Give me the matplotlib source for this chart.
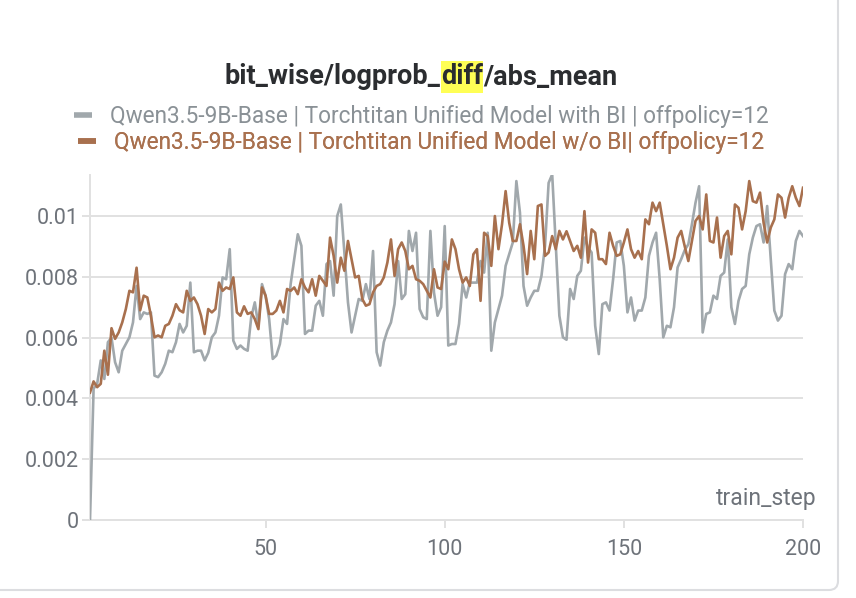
import matplotlib
matplotlib.use("Agg")
import matplotlib.pyplot as plt
import numpy as np
from matplotlib.lines import Line2D
from matplotlib.patches import FancyBboxPatch, Rectangle
from matplotlib.transforms import IdentityTransform

plt.rcParams["font.family"] = ["Roboto", "DejaVu Sans"]

TITLE_PARTS = ["bit_wise/logprob_", "diff", "/abs_mean"]
LABEL_WITH_BI = "Qwen3.5-9B-Base | Torchtitan Unified Model with BI | offpolicy=12"
LABEL_WO_BI = "Qwen3.5-9B-Base | Torchtitan Unified Model w/o BI| offpolicy=12"
X_LABEL = "train_step"

y_ticks = [0, 0.002, 0.004, 0.006, 0.008, 0.01]
y_tick_labels = ["0", "0.002", "0.004", "0.006", "0.008", "0.01"]
x_ticks = [50, 100, 150, 200]

steps = np.arange(1, 201)

# values in units of 1e-3
with_bi = [
    0.0, 4.32, 4.48, 5.25, 4.64, 5.85, 6.0, 5.19, 4.86, 5.57,
    5.79, 6.01, 6.5, 7.7, 6.61, 6.83, 6.78, 6.83, 4.75, 4.7,
    4.86, 5.14, 5.57, 5.52, 5.85, 6.45, 6.17, 6.39, 7.81, 5.52,
    5.57, 5.57, 5.25, 5.5, 6.01, 6.17, 6.72, 7.98, 7.92, 8.91,
    5.9, 5.63, 5.74, 5.63, 5.57, 6.67, 7.16, 6.39, 7.76, 7.38,
    6.61, 5.3, 5.41, 5.79, 6.61, 6.45, 7.76, 8.58, 9.4, 9.02,
    6.12, 6.23, 6.23, 7.05, 7.21, 6.72, 8.42, 8.52, 7.38, 10.0,
    10.38, 8.8, 7.16, 6.17, 6.72, 7.27, 7.21, 7.76, 7.27, 8.85,
    5.52, 5.08, 5.85, 6.23, 6.5, 7.1, 8.52, 7.27, 7.43, 9.51,
    8.85, 9.45, 6.94, 6.67, 6.61, 9.51, 7.49, 6.72, 7.0, 9.67,
    5.74, 5.79, 5.79, 6.45, 7.76, 7.32, 7.81, 7.81, 7.81, 8.52,
    8.14, 9.45, 5.57, 6.5, 6.94, 7.38, 8.36, 8.74, 9.13, 11.15,
    10.11, 7.7, 7.05, 7.32, 7.54, 7.54, 8.03, 9.02, 11.09, 11.37,
    9.02, 6.72, 6.01, 5.93, 7.6, 7.27, 8.03, 8.2, 9.29, 8.96,
    8.8, 6.39, 5.46, 7.1, 7.16, 6.89, 7.92, 9.13, 9.18, 8.36,
    6.83, 7.32, 6.56, 6.89, 6.89, 7.32, 8.69, 9.13, 9.45, 7.92,
    6.01, 6.39, 6.34, 7.0, 8.31, 8.58, 8.88, 9.07, 9.73, 10.44,
    10.98, 6.17, 6.78, 6.83, 7.38, 7.27, 8.03, 8.14, 9.23, 7.0,
    6.45, 7.21, 7.6, 7.7, 8.74, 9.29, 9.67, 9.73, 9.13, 10.33,
    8.58, 6.89, 6.56, 6.72, 8.09, 8.42, 8.25, 9.18, 9.51, 9.34,
]

wo_bi = [
    4.19, 4.56, 4.37, 4.48, 5.57, 4.78, 6.31, 5.96, 6.17, 6.5,
    6.94, 7.54, 7.49, 8.3, 6.9, 7.38, 7.32, 6.72, 6.01, 6.07,
    6.01, 6.39, 6.45, 6.72, 7.1, 6.9, 6.83, 7.54, 7.21, 7.32,
    7.1, 6.72, 6.12, 6.94, 6.83, 6.94, 7.81, 7.54, 7.65, 7.6,
    7.98, 6.83, 6.72, 7.03, 6.78, 6.83, 6.61, 6.28, 7.65, 7.38,
    6.78, 6.78, 6.89, 7.21, 6.83, 7.6, 7.54, 7.65, 7.43, 7.92,
    7.65, 7.49, 7.92, 7.38, 8.03, 7.87, 7.7, 9.29, 8.69, 7.81,
    8.63, 8.2, 9.18, 8.58, 7.98, 8.03, 7.27, 7.05, 7.1, 7.49,
    7.7, 7.76, 7.98, 8.47, 9.23, 8.03, 8.91, 9.13, 8.85, 8.25,
    8.36, 7.92, 7.87, 7.76, 7.54, 7.32, 8.25, 7.65, 7.6, 8.5,
    8.25, 9.23, 8.91, 8.25, 7.81, 7.98, 7.7, 8.74, 8.91, 7.21,
    9.45, 9.34, 8.36, 10.0, 8.91, 9.73, 10.82, 9.78, 9.18, 9.18,
    9.73, 9.02, 8.09, 9.51, 8.58, 10.33, 10.38, 8.69, 8.8, 9.34,
    8.91, 9.51, 9.23, 9.5, 9.18, 8.85, 9.02, 8.63, 10.16, 8.47,
    9.56, 9.45, 8.58, 8.58, 8.42, 9.45, 9.02, 8.69, 8.74, 9.13,
    9.56, 8.91, 8.63, 8.85, 8.58, 9.89, 9.73, 10.44, 10.16, 10.44,
    9.73, 9.02, 8.25, 8.63, 9.29, 9.51, 9.0, 8.52, 9.18, 9.84,
    10.0, 9.56, 10.71, 9.18, 9.13, 9.95, 8.63, 9.34, 9.51, 8.74,
    10.38, 10.27, 9.56, 10.16, 11.15, 10.49, 10.44, 10.77, 9.78, 9.13,
    9.62, 9.89, 10.71, 10.6, 9.95, 10.6, 10.98, 10.6, 10.33, 10.93,
]

GRAY = "#a1a8ac"
GRAY_TEXT = "#8a9196"
BROWN = "#a8704e"
BROWN_TEXT = "#a9714f"
GRID = "#e1e1e1"
TICK_TEXT = "#6e737a"

W, H = 856, 598


def fx(px):
    return px / W


def fy(py):
    return 1 - py / H


fig = plt.figure(figsize=(W / 100, H / 100), dpi=100)
fig.patch.set_facecolor("white")
ax = fig.add_axes([fx(90), fy(520), fx(803) - fx(90), fy(175) - fy(520)])

ax.plot(steps, np.array(with_bi) * 1e-3, color=GRAY, lw=1.9, solid_joinstyle="round", zorder=3)
ax.plot(steps, np.array(wo_bi) * 1e-3, color=BROWN, lw=1.9, solid_joinstyle="round", zorder=4)

ax.set_xlim(1, 200)
ax.set_ylim(0, 0.01135)
ax.set_yticks(y_ticks, labels=y_tick_labels)
ax.set_xticks(x_ticks, labels=[str(t) for t in x_ticks])
ax.grid(axis="y", color=GRID, lw=1.4, zorder=0)
for side in ("top", "right"):
    ax.spines[side].set_visible(False)
for side in ("left", "bottom"):
    ax.spines[side].set_color(GRID)
    ax.spines[side].set_linewidth(1.4)
ax.tick_params(axis="both", colors=GRID, length=6, width=1.4, labelsize=15.5, labelcolor=TICK_TEXT)
ax.tick_params(axis="x", pad=8)
ax.tick_params(axis="y", pad=2)

fig.text(fx(817), fy(498), X_LABEL, ha="right", va="center", fontsize=16.5, color=TICK_TEXT)

# title with highlighted "diff"
fig.canvas.draw()
renderer = fig.canvas.get_renderer()
pieces = []
for part in TITLE_PARTS:
    t = fig.text(0, fy(77), part, ha="left", va="center", fontsize=19.5, fontweight="bold", color="#2b2d30")
    pieces.append(t)
widths = [p.get_window_extent(renderer).width for p in pieces]
x0 = 421 - sum(widths) / 2
for p, w in zip(pieces, widths):
    p.set_x(fx(x0))
    x0 += w
bb = pieces[1].get_window_extent(renderer)
fig.add_artist(Rectangle((bb.x0, H - 93), bb.width, 32, transform=IdentityTransform(),
                         facecolor="#ffff55", edgecolor="none", zorder=0))

# legend rows, each centred on its own
rows = [(LABEL_WITH_BI, GRAY, GRAY_TEXT, 116), (LABEL_WO_BI, BROWN, BROWN_TEXT, 142)]
for label, c, tc, ypos in rows:
    h = Line2D([], [], color=c, lw=4, solid_capstyle="butt")
    leg = ax.legend(handles=[h], labels=[label], loc="center", bbox_to_anchor=(fx(421), fy(ypos)),
                    bbox_transform=fig.transFigure, frameon=False, fontsize=16.3,
                    handlelength=0.8, handletextpad=0.8, borderpad=0, borderaxespad=0)
    leg.get_texts()[0].set_color(tc)
    ax.add_artist(leg)

# panel border
fig.add_artist(FancyBboxPatch((-20, H - 590), 858, 640, boxstyle="round,pad=0,rounding_size=9",
                              transform=IdentityTransform(), facecolor="none",
                              edgecolor="#dcdde0", lw=1.5))

fig.savefig("out.png", dpi=100, facecolor="white")
